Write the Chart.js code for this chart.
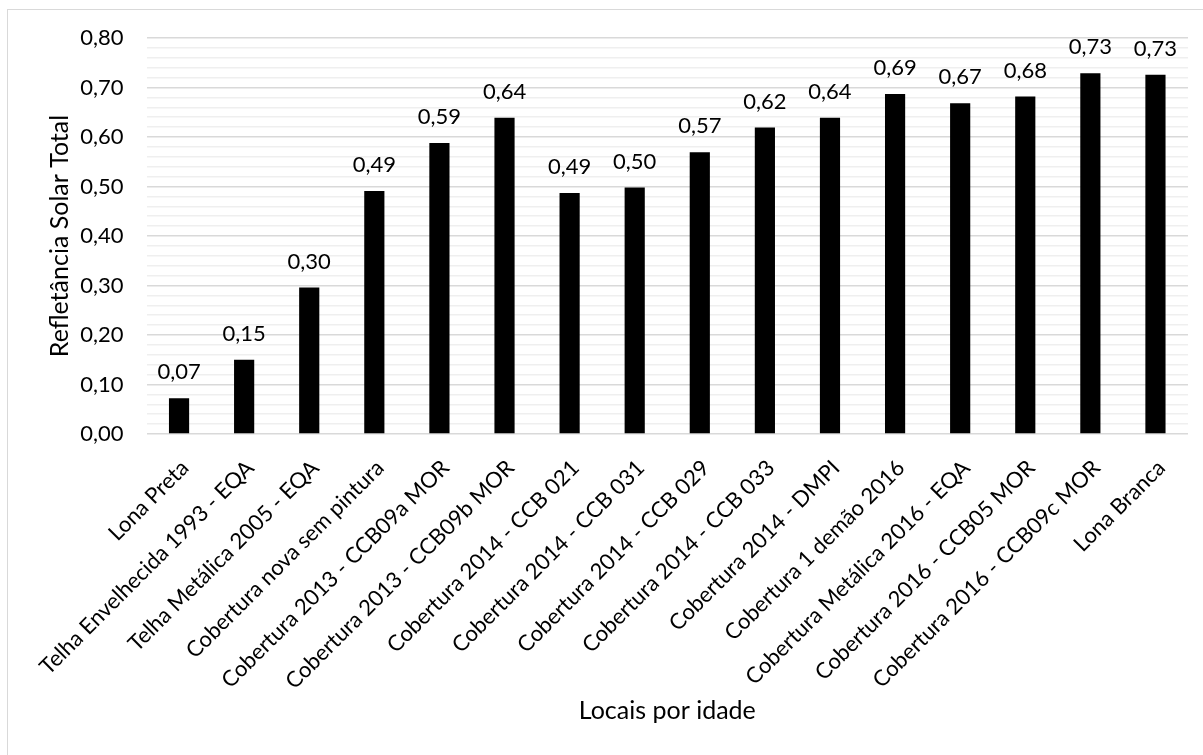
<!DOCTYPE html>
<html lang="pt">
<head>
<meta charset="utf-8">
<title>Refletância Solar Total</title>
<script src="https://cdn.jsdelivr.net/npm/chart.js@4/dist/chart.umd.min.js"></script>
<style>
  html, body { margin: 0; padding: 0; background: #ffffff; }
  #wrap { width: 1203px; height: 755px; position: relative; }
</style>
</head>
<body>
<div id="wrap"><canvas id="chart" width="1203" height="755"></canvas></div>
<script>
// Locais avaliados, em ordem de idade
const categories = [
  'Lona Preta',
  'Telha Envelhecida 1993 - EQA',
  'Telha Metálica 2005 - EQA',
  'Cobertura nova sem pintura',
  'Cobertura 2013 - CCB09a MOR',
  'Cobertura 2013 - CCB09b MOR',
  'Cobertura 2014 - CCB 021',
  'Cobertura 2014 - CCB 031',
  'Cobertura 2014 - CCB 029',
  'Cobertura 2014 - CCB 033',
  'Cobertura 2014 - DMPI',
  'Cobertura 1 demão 2016',
  'Cobertura Metálica 2016 - EQA',
  'Cobertura 2016 - CCB05 MOR',
  'Cobertura 2016 - CCB09c MOR',
  'Lona Branca'
];

// Refletância solar total medida em cada local
const reflectance = [0.072, 0.150, 0.296, 0.491, 0.588, 0.639, 0.487, 0.498, 0.569, 0.619, 0.639, 0.687, 0.668, 0.682, 0.729, 0.726];

// Eixo vertical
const yMin = 0;
const yMax = 0.8;
const yMinorStep = 0.02;
const yMajorStep = 0.1;

const yTitle = 'Refletância Solar Total';
const xTitle = 'Locais por idade';

const FONT = 'Lato, "Open Sans", "Noto Sans", sans-serif';
const TEXT = '#000000';
const SIZE = 22;
const TITLE_SIZE = 25;

const fmt = v => v.toFixed(2).replace('.', ',');
const isMajor = v => Math.round(v * 100) % Math.round(yMajorStep * 100) === 0;

// Moldura e fundo do gráfico
const framePlugin = {
  id: 'frame',
  beforeDraw(chart) {
    const ctx = chart.ctx;
    ctx.save();
    ctx.fillStyle = '#ffffff';
    ctx.fillRect(0, 0, chart.width, chart.height);
    ctx.strokeStyle = '#d9d9d9';
    ctx.lineWidth = 1;
    ctx.strokeRect(7.5, 9.5, chart.width + 20, chart.height + 20);
    ctx.restore();
  }
};

// Rótulos de valor acima de cada barra
const valueLabels = {
  id: 'valueLabels',
  afterDatasetsDraw(chart) {
    const ctx = chart.ctx;
    const meta = chart.getDatasetMeta(0);
    ctx.save();
    ctx.font = SIZE + 'px ' + FONT;
    ctx.fillStyle = TEXT;
    ctx.textAlign = 'center';
    ctx.textBaseline = 'middle';
    meta.data.forEach((bar, i) => {
      const v = chart.data.datasets[0].data[i];
      ctx.fillText(fmt(v), bar.x, bar.y - 26);
    });
    ctx.restore();
  }
};

new Chart(document.getElementById('chart'), {
  type: 'bar',
  data: {
    labels: categories,
    datasets: [{
      data: reflectance,
      backgroundColor: '#000000',
      borderWidth: 0,
      categoryPercentage: 1,
      barPercentage: 0.31
    }]
  },
  options: {
    responsive: false,
    animation: false,
    devicePixelRatio: 1,
    layout: { padding: { left: 0, top: 38, right: 15, bottom: 0 } },
    plugins: {
      legend: { display: false },
      tooltip: { enabled: false },
      title: { display: false }
    },
    scales: {
      x: {
        grid: { display: false, drawTicks: false },
        border: { display: false },
        ticks: {
          color: TEXT,
          font: { family: FONT, size: SIZE },
          minRotation: 45,
          maxRotation: 45,
          autoSkip: false,
          padding: 21,
          labelOffset: 6
        },
        title: {
          display: true,
          text: xTitle,
          color: TEXT,
          font: { family: FONT, size: TITLE_SIZE },
          padding: { top: 0, bottom: 29 }
        },
        afterFit(scale) { scale.height = 755 - 434; }
      },
      y: {
        min: yMin,
        max: yMax,
        grid: {
          drawTicks: false,
          color: ctx => (ctx.tick && isMajor(ctx.tick.value)) ? '#d9d9d9' : '#efefef',
          lineWidth: 1.5
        },
        border: { display: false },
        ticks: {
          stepSize: yMinorStep,
          autoSkip: false,
          color: TEXT,
          font: { family: FONT, size: SIZE },
          padding: 23,
          callback: v => isMajor(v) ? fmt(v) : ''
        },
        title: {
          display: true,
          text: yTitle,
          color: TEXT,
          font: { family: FONT, size: TITLE_SIZE },
          padding: { top: 45, bottom: 0 }
        },
        afterFit(scale) { scale.width = 146.5; }
      }
    }
  },
  plugins: [framePlugin, valueLabels]
});
</script>
</body>
</html>
